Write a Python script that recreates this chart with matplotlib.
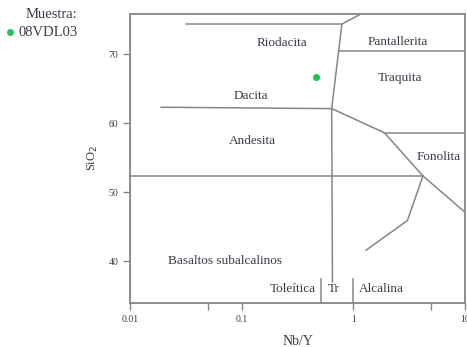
"""Diagrama Nb/Y vs SiO2 (Winchester & Floyd 1977) con la muestra 08VDL03."""
import matplotlib
matplotlib.use('Agg')
import matplotlib.pyplot as plt

plt.rcParams['font.family'] = ['Liberation Serif', 'DejaVu Serif']

# muestra
muestra_nombre = '08VDL03'
muestra_nby = [0.46]
muestra_sio2 = [66.7]

# límites de campos (Nb/Y, SiO2)
limites = {
    'riodacita_techo': ([0.032, 0.79, 1.17], [74.35, 74.35, 75.8]),
    'subalc_alc': ([0.79, 0.64, 0.65], [74.35, 62.1, 37.0]),
    'dacita_andesita': ([0.019, 0.64], [62.3, 62.1]),
    'pantellerita_traquita': ([0.74, 10], [70.45, 70.45]),
    'traquita_fonolita': ([0.64, 1.9, 4.2, 10], [62.1, 58.6, 52.35, 47.1]),
    'fonolita_techo': ([1.9, 10], [58.6, 58.6]),
    'basalto_techo': ([0.01, 4.2], [52.35, 52.35]),
    'basanita': ([4.2, 3.05, 1.3], [52.35, 45.9, 41.6]),
    'toleitica_tr': ([0.51, 0.51], [34, 37.5]),
    'tr_alcalina': ([1.0, 1.0], [34, 37.5]),
}

campos = ['Riodacita', 'Pantallerita', 'Traquita', 'Dacita', 'Andesita', 'Fonolita',
          'Basaltos subalcalinos', 'Toleítica', 'Tr', 'Alcalina']
campos_x = [0.23, 2.52, 2.63, 0.12, 0.124, 5.8, 0.0705, 0.287, 0.67, 1.77]
campos_y = [71.6, 71.8, 66.6, 63.9, 57.35, 55.1, 40.1, 36.0, 36.0, 36.0]

TXT = '#3b3b48'
LIN = '#858585'
VERDE = '#1ec35a'

fig = plt.figure(figsize=(4.67, 3.47), dpi=100)
ax = fig.add_axes([130 / 467, 1 - 302.7 / 347, 335 / 467, (302.7 - 14) / 347])
ax.set_xscale('log')
ax.set_xlim(0.01, 10)
ax.set_ylim(34, 75.8)

for xs, ys in limites.values():
    ax.plot(xs, ys, color=LIN, lw=1.1, zorder=1)

for t, x, y in zip(campos, campos_x, campos_y):
    ax.text(x, y, t, ha='center', va='center', fontsize=9.5, color=TXT)

ax.scatter(muestra_nby, muestra_sio2, s=26, color=VERDE, zorder=3, linewidths=0)

ax.set_xticks([0.01, 0.05, 0.1, 1, 5, 10])
ax.set_xticklabels(['0.01', '', '0.1', '1', '', '10'])
ax.xaxis.set_minor_locator(matplotlib.ticker.NullLocator())
ax.set_yticks([40, 50, 60, 70])
ax.tick_params(labelsize=7, labelcolor=TXT, color=LIN, length=5, width=1.0)
for s in ax.spines.values():
    s.set_color(LIN)
    s.set_linewidth(1.3)

ax.set_xlabel('Nb/Y', fontsize=10, color=TXT, labelpad=8)
ax.set_ylabel('SiO$_2$', fontsize=9, color=TXT, labelpad=6)

fig.text(77 / 467, 1 - 14 / 347, 'Muestra:', ha='right', va='center', fontsize=10.5, color=TXT)
fig.text(78 / 467, 1 - 33 / 347, muestra_nombre, ha='right', va='center', fontsize=10.5, color=TXT)
fig.lines.append(plt.Line2D([10 / 467], [1 - 32 / 347], transform=fig.transFigure,
                            marker='o', ms=5, color=VERDE, mec='none', ls='none'))

fig.savefig('out.png', dpi=100, facecolor='white')
